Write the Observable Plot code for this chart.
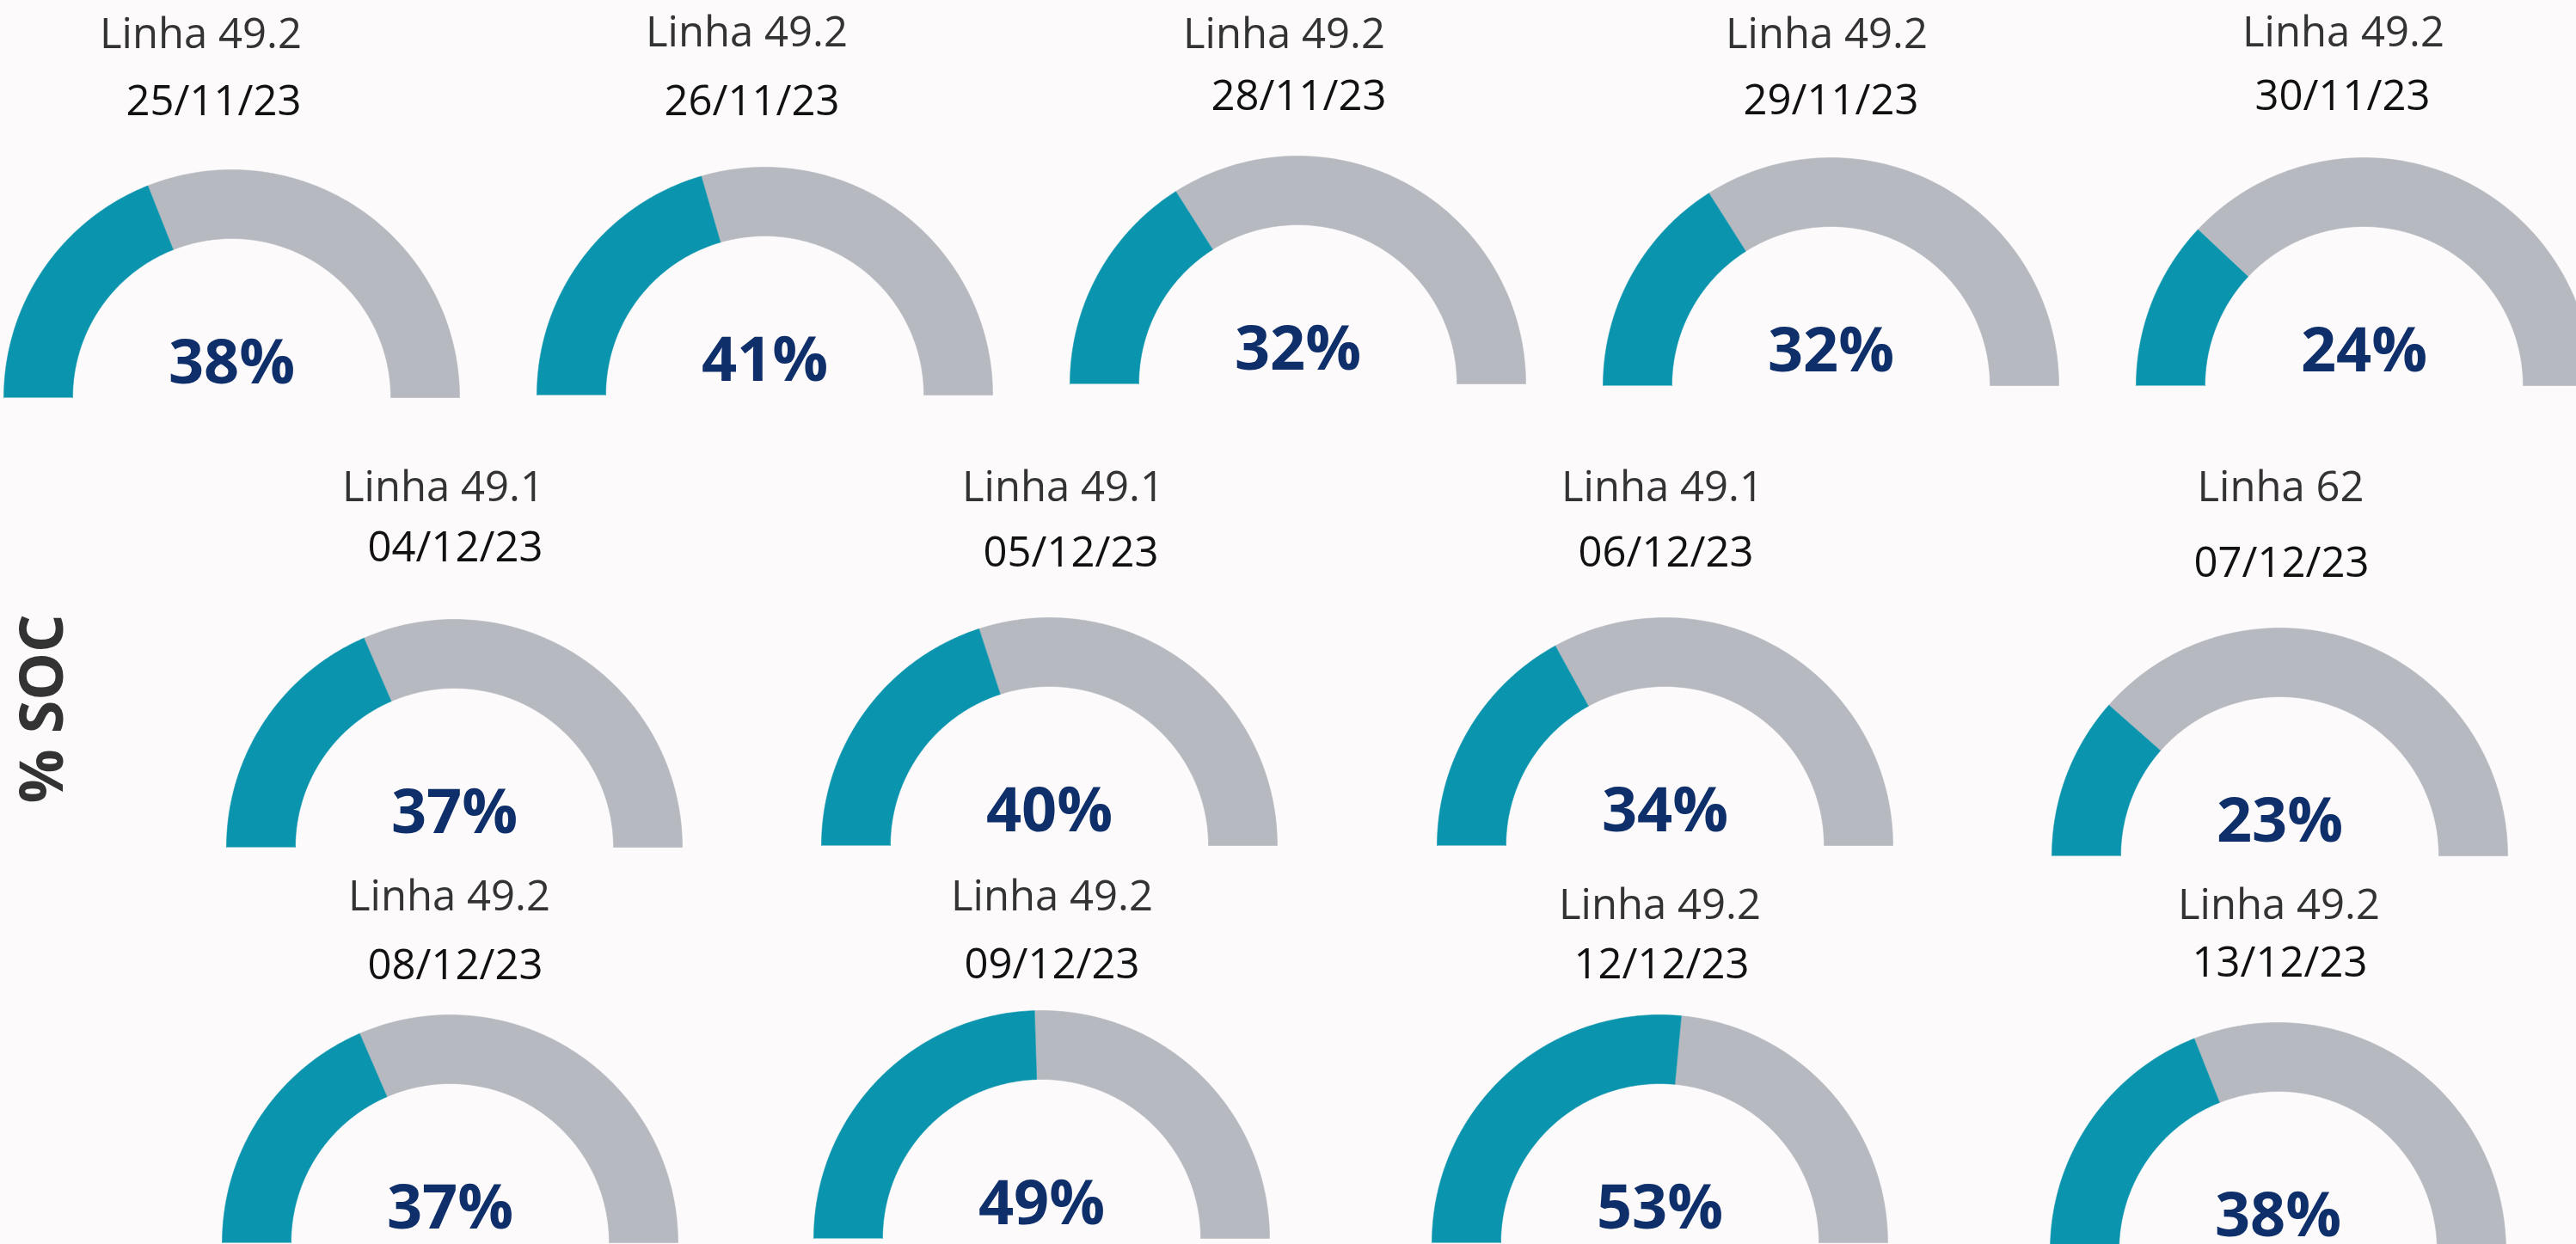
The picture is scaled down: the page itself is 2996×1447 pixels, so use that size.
<!DOCTYPE html>
<html><head><meta charset="utf-8">
<script src="https://cdn.jsdelivr.net/npm/d3@7"></script>
<script src="https://cdn.jsdelivr.net/npm/@observablehq/plot@0.6"></script>
<style>
html,body{margin:0;padding:0;background:#fcfafb;overflow:hidden;}
</style></head><body><div id="chart"></div>
<script>
// ---- data ----
const linhas = ["Linha 49.2","Linha 49.2","Linha 49.2","Linha 49.2","Linha 49.2",
  "Linha 49.1","Linha 49.1","Linha 49.1","Linha 62",
  "Linha 49.2","Linha 49.2","Linha 49.2","Linha 49.2"];
const datas = ["25/11/23","26/11/23","28/11/23","29/11/23","30/11/23",
  "04/12/23","05/12/23","06/12/23","07/12/23",
  "08/12/23","09/12/23","12/12/23","13/12/23"];
const soc = [38,41,32,32,24,37,40,34,23,37,49,53,38];
const axisLabel = "% SOC";

// ---- layout (pixel positions) ----
const W = 2996, H = 1447;
const gaugeCx   = [269, 889, 1509, 2129, 2749, 528, 1220, 1936, 2651, 523, 1211, 1930, 2649];
const gaugeBase = [462, 459, 446, 448, 448, 985, 983, 983, 995, 1445, 1440, 1445, 1454];
const titleX = [233, 868, 1493, 2124, 2725, 515, 1236, 1933, 2652, 522, 1223, 1930, 2650];
const titleY = [55, 53, 55, 55, 53, 582, 582, 582, 582, 1058, 1058, 1068, 1068];
const dateX  = [248, 874, 1510, 2129, 2724, 529, 1245, 1937, 2653, 529, 1223, 1932, 2651];
const dateY  = [133, 133, 127, 132, 127, 652, 658, 658, 670, 1138, 1137, 1137, 1135];
const R_OUT = 265, R_IN = 185;
const labelPos = {x: 50, y: 824};

const TEAL = "#0a94ad", GREY = "#b6b9bf", NAVY = "#0f2f6b";

function ring(i, from, to) {
  const pts = [];
  const n = 120;
  const cx = gaugeCx[i], cy = gaugeBase[i];
  for (let k = 0; k <= n; k++) {
    const t = from + (to - from) * k / n;
    const a = Math.PI * (1 - t / 100);
    pts.push({g: i, x: cx + R_OUT * Math.cos(a), y: cy - R_OUT * Math.sin(a)});
  }
  for (let k = n; k >= 0; k--) {
    const t = from + (to - from) * k / n;
    const a = Math.PI * (1 - t / 100);
    pts.push({g: i, x: cx + R_IN * Math.cos(a), y: cy - R_IN * Math.sin(a)});
  }
  return pts;
}

const filled = soc.flatMap((v, i) => ring(i, 0, v));
const rest = soc.flatMap((v, i) => ring(i, v, 100));

const gauges = soc.map((v, i) => ({
  i, v, linha: linhas[i], data: datas[i],
  tx: titleX[i], ty: titleY[i], dx: dateX[i], dy: dateY[i],
  px: gaugeCx[i], py: gaugeBase[i] - 17
}));

const chart = Plot.plot({
  width: W, height: H,
  margin: 0,
  x: {domain: [0, W], range: [0, W], axis: null},
  y: {domain: [0, H], range: [0, H], axis: null},
  style: {background: "#fcfafb", fontFamily: "'Open Sans', sans-serif", overflow: "hidden"},
  marks: [
    Plot.line(rest, {x: "x", y: "y", z: "g", fill: GREY, stroke: GREY, strokeWidth: 0.6, curve: "linear"}),
    Plot.line(filled, {x: "x", y: "y", z: "g", fill: TEAL, stroke: TEAL, strokeWidth: 0.6, curve: "linear"}),
    Plot.text(gauges, {x: "tx", y: "ty", text: "linha", fontSize: 49, fill: "#333333", textAnchor: "middle", lineAnchor: "bottom"}),
    Plot.text(gauges, {x: "dx", y: "dy", text: "data", fontSize: 49, fill: "#111111", textAnchor: "middle", lineAnchor: "bottom"}),
    Plot.text(gauges, {x: "px", y: "py", text: d => d.v + "%", fontSize: 72, fontWeight: "bold", fill: NAVY, textAnchor: "middle", lineAnchor: "bottom"}),
    Plot.text([axisLabel], {x: () => labelPos.x, y: () => labelPos.y, text: d => d, rotate: -90, fontSize: 70, fontWeight: "bold", fill: "#333333", textAnchor: "middle", lineAnchor: "middle"})
  ]
});
document.getElementById("chart").appendChild(chart);
</script>
</body></html>
